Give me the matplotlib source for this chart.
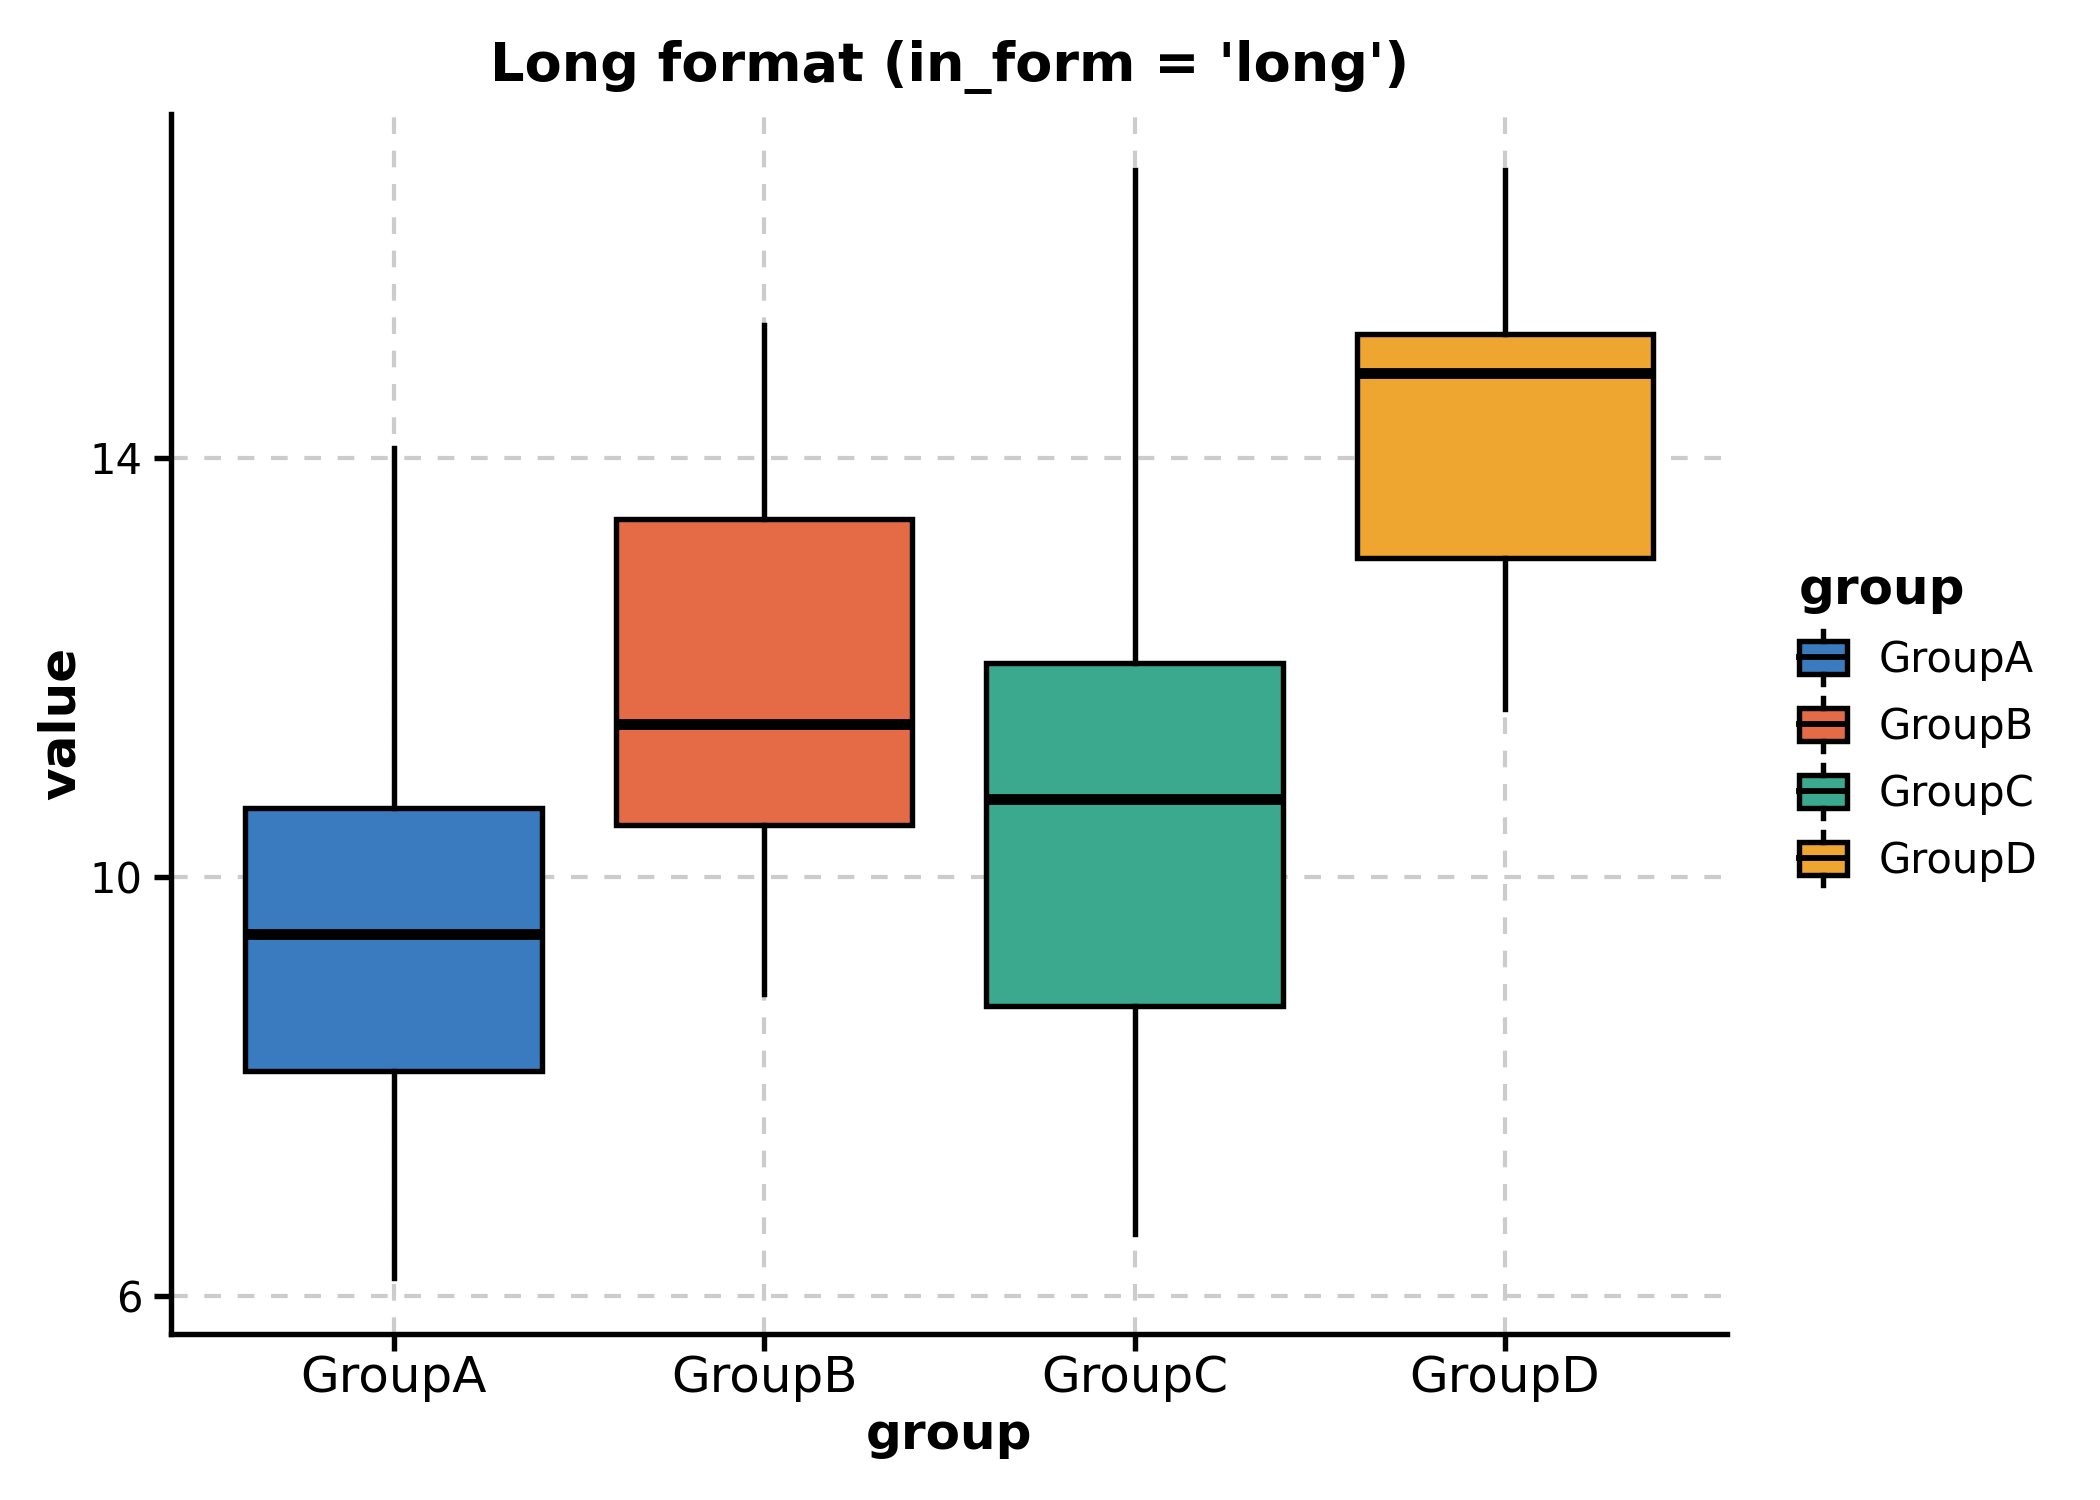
import matplotlib
matplotlib.use("Agg")
import matplotlib.pyplot as plt
from matplotlib.legend_handler import HandlerBase
from matplotlib.patches import Rectangle
from matplotlib.lines import Line2D

plt.rcParams['font.family'] = ['DejaVu Sans']

groups = ["GroupA", "GroupB", "GroupC", "GroupD"]
whislo = [6.17, 8.88, 6.59, 11.60]
q1 = [8.15, 10.49, 8.77, 13.04]
med = [9.45, 11.46, 10.74, 14.81]
q3 = [10.66, 13.41, 12.04, 15.18]
whishi = [14.09, 15.27, 16.75, 16.75]
colors = ["#3a7bbf", "#e56b47", "#3ba98e", "#efa631"]
yticks = [6, 10, 14]

fig = plt.figure(figsize=(7, 5), dpi=300)
ax = fig.add_axes([0.0816, 0.111, 0.7409, 0.813])

stats = []
for i, g in enumerate(groups):
    stats.append(dict(label=g, whislo=whislo[i], q1=q1[i], med=med[i],
                      q3=q3[i], whishi=whishi[i], fliers=[]))

bp = ax.bxp(stats, positions=range(len(groups)), widths=0.8, patch_artist=True,
            showcaps=False, showfliers=False,
            boxprops=dict(linewidth=1.3, edgecolor='black'),
            whiskerprops=dict(linewidth=1.3, color='black'),
            medianprops=dict(linewidth=2.6, color='black'))
for patch, c in zip(bp['boxes'], colors):
    patch.set_facecolor(c)
    patch.set_zorder(2)
for l in bp['whiskers'] + bp['medians']:
    l.set_zorder(3)

ax.set_xlim(-0.6, 3.6)
ax.set_ylim(5.64, 17.28)
ax.set_yticks(yticks)
ax.set_xticks(range(len(groups)))
ax.set_xticklabels(groups, fontsize=12)
ax.tick_params(axis='y', labelsize=10, width=1.3, length=4, pad=3)
ax.tick_params(axis='x', width=1.3, length=4, pad=1.0)
ax.grid(True, color='#cccccc', linestyle=(0, (4, 4)), linewidth=1.0, zorder=0)
ax.set_axisbelow(True)
for s in ['top', 'right']:
    ax.spines[s].set_visible(False)
for s in ['left', 'bottom']:
    ax.spines[s].set_linewidth(1.3)

ax.set_xlabel("group", fontsize=12, fontweight='bold', labelpad=2)
ax.set_ylabel("value", fontsize=12, fontweight='bold', labelpad=1)
ax.set_title("Long format (in_form = 'long')", fontsize=13, fontweight='bold', pad=8)


class BoxHandler(HandlerBase):
    def __init__(self, color):
        super().__init__()
        self.color = color

    def create_artists(self, legend, orig_handle, xdescent, ydescent, width,
                       height, fontsize, trans):
        w = width
        x0 = -xdescent
        y0 = -ydescent + height * 0.05
        h = height * 0.9
        rect = Rectangle((x0, y0), w, h, facecolor=self.color, edgecolor='black',
                         linewidth=1.3, transform=trans)
        xm = x0 + w / 2
        mline = Line2D([x0, x0 + w], [y0 + h / 2] * 2, color='black', lw=1.4,
                       transform=trans)
        wl = Line2D([xm, xm], [y0 + h, y0 + h + height * 0.25], color='black',
                    lw=1.3, transform=trans)
        wl2 = Line2D([xm, xm], [y0, y0 - height * 0.25], color='black',
                     lw=1.3, transform=trans)
        return [rect, mline, wl, wl2]


handles = [Rectangle((0, 0), 1, 1) for _ in groups]
hmap = {h: BoxHandler(c) for h, c in zip(handles, colors)}
leg = ax.legend(handles, groups, title="group", loc='center left',
                bbox_to_anchor=(1.022, 0.5), frameon=False, fontsize=10,
                handler_map=hmap, handlelength=1.15, handleheight=1.0,
                labelspacing=0.6, handletextpad=0.75)
leg.get_title().set_fontweight('bold')
leg.get_title().set_fontsize(12)
leg._legend_box.align = "left"

fig.savefig("out.png", dpi=300)
